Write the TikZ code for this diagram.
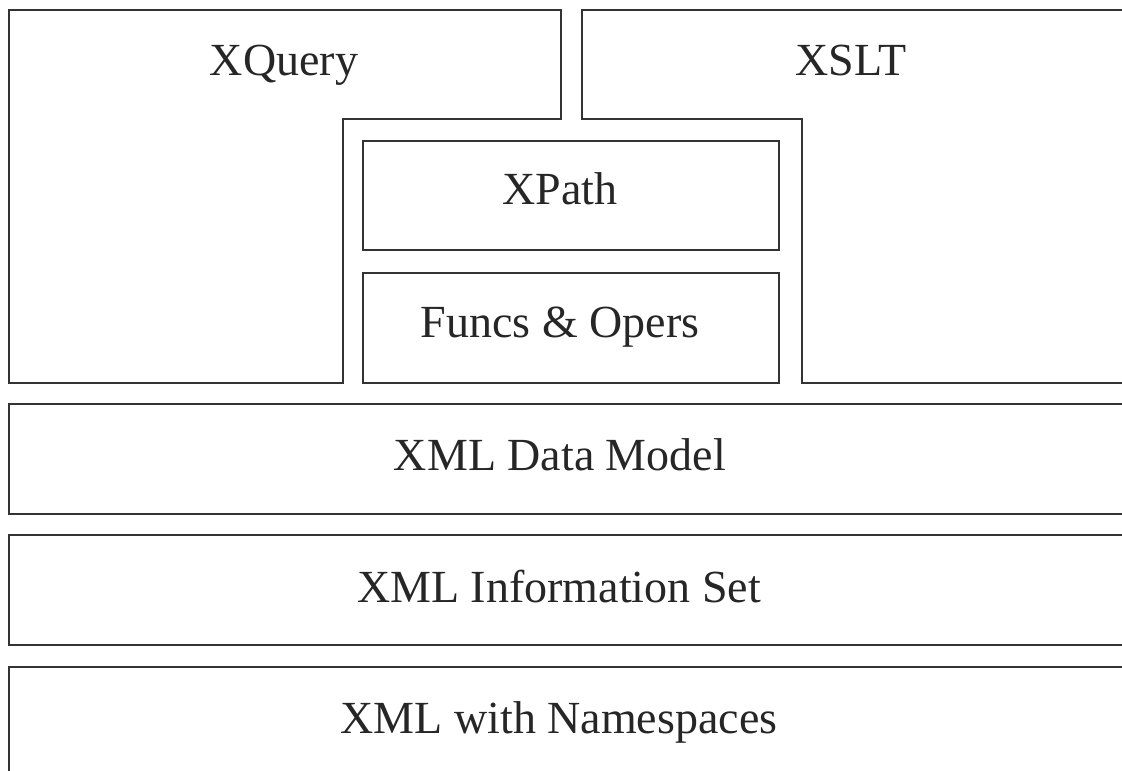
\documentclass[tikz,border=0pt]{standalone}
\usepackage{fontspec}
\setmainfont{Liberation Serif}
\begin{document}
\begin{tikzpicture}[x=0.5pt,y=-0.5pt,
  frame/.style={draw=black!80,line width=1pt,line join=miter},
  lbl/.style={anchor=base,inner sep=0pt,font=\fontsize{23}{27}\selectfont,text=black!85}]
\useasboundingbox (0,0) rectangle (1122,770);
\clip (0,0) rectangle (1122,770);
% XQuery L-shape
\draw[frame] (9,10) -- (561,10) -- (561,119) -- (343,119) -- (343,383) -- (9,383) -- cycle;
% XSLT reversed L-shape (extends past right edge)
\draw[frame] (1140,10) -- (582,10) -- (582,119) -- (802,119) -- (802,383) -- (1140,383);
% inner boxes
\draw[frame] (363,141) rectangle (779,250);
\draw[frame] (363,273) rectangle (779,383);
% layers
\draw[frame] (9,404) rectangle (1140,514);
\draw[frame] (9,535) rectangle (1140,645);
\draw[frame] (9,667) rectangle (1140,800);
% labels
\node[lbl] (xquery) at (284,76) {XQuery};
\node[lbl] (xslt) at (851,76) {XSLT};
\node[lbl] (xpath) at (560,205) {XPath};
\node[lbl] (funcs) at (560,337) {Funcs \& Opers};
\node[lbl] (xdm) at (560,470) {XML Data Model};
\node[lbl] (infoset) at (559,602) {XML Information Set};
\node[lbl] (ns) at (559,733) {XML with Namespaces};
\end{tikzpicture}
\end{document}
